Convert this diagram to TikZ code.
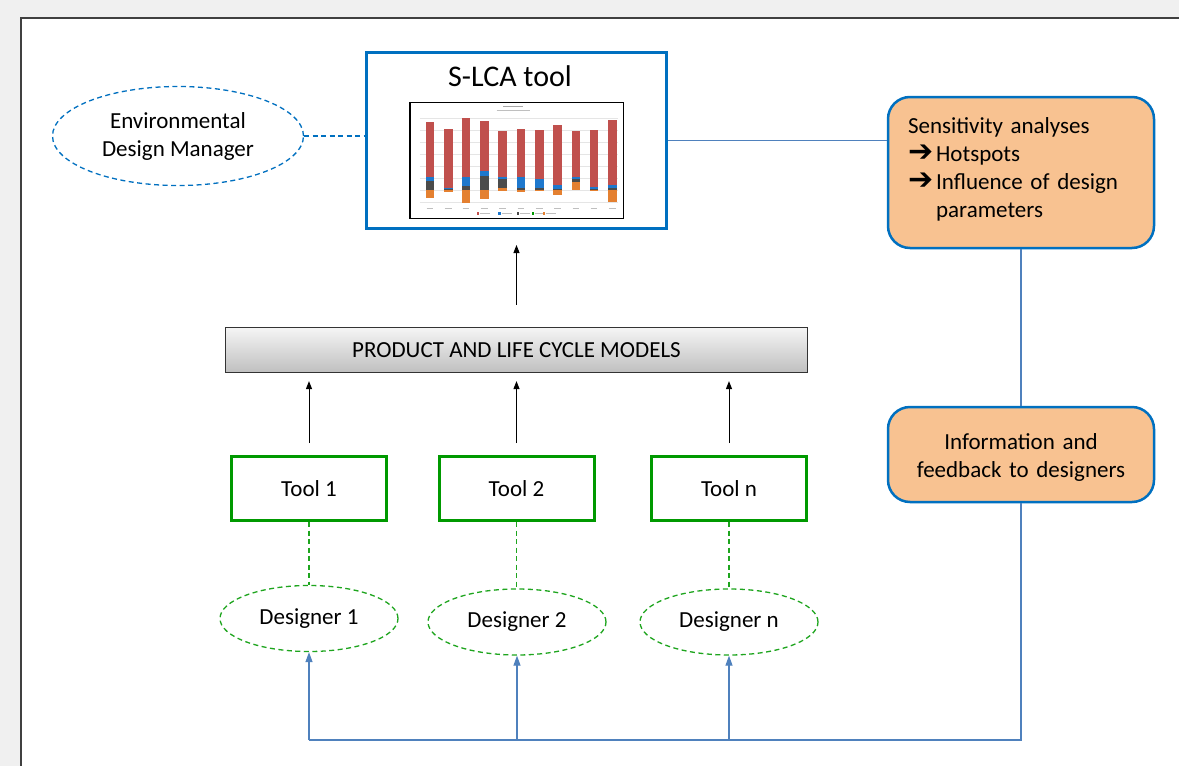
\documentclass[tikz,border=0pt]{standalone}
\usepackage{fontspec}
\setmainfont{Carlito}
\newfontfamily\symfont{DejaVu Sans}
\usetikzlibrary{shapes.geometric, arrows.meta, positioning}

\definecolor{lcablue}{RGB}{0,112,192}
\definecolor{linkblue}{RGB}{79,129,189}
\definecolor{toolgreen}{RGB}{0,153,0}
\definecolor{dashgreen}{RGB}{30,165,30}
\definecolor{peach}{RGB}{248,194,145}
\definecolor{barred}{RGB}{192,80,77}
\definecolor{barblue}{RGB}{30,120,205}
\definecolor{bargray}{RGB}{75,75,75}
\definecolor{barorange}{RGB}{228,128,48}

\newcommand{\bularrow}{\smash{\symfont\bfseries\fontsize{30}{28}\selectfont ➔}\hspace{3pt}}

\begin{document}
\begin{tikzpicture}[
    x=1pt, y=-1pt,
    every node/.style={align=center, inner sep=0pt, font=\fontsize{23}{28}\selectfont},
    slcabox/.style={draw=lcablue, line width=3pt, minimum width=300pt, minimum height=176pt, anchor=center},
    envnode/.style={ellipse, draw=lcablue, line width=1.3pt, dash pattern=on 5pt off 3.5pt, minimum width=251pt, minimum height=99pt},
    orangebox/.style={draw=lcablue, line width=2.5pt, fill=peach, rounded corners=22pt, minimum width=266pt, text width=226pt, inner xsep=20pt},
    plcmbox/.style={draw=black!80, line width=1.2pt, top color=black!4, bottom color=black!25, minimum width=582pt, minimum height=45pt},
    toolbox/.style={draw=toolgreen, line width=3pt, minimum width=155pt, minimum height=64pt},
    designer/.style={ellipse, draw=dashgreen, line width=1.3pt, dash pattern=on 5pt off 3.5pt, minimum width=178pt, minimum height=66pt},
    uparrow/.style={draw, line width=1pt, -{Triangle[length=8pt, width=6pt]}},
    link/.style={draw=linkblue, line width=1.2pt},
    fbarrow/.style={link, -{Triangle[length=10pt, width=7pt]}}
]
\useasboundingbox (0,0) rectangle (1179,766);

% page frame
\fill[black!6] (0,0) rectangle (1179,766);
\fill[white] (21,18) rectangle (1179,766);
\draw[black!75, line width=2pt] (21,766) -- (21,18) -- (1179,18);

% S-LCA tool with its chart
\node[slcabox] (slca) at (516.5,140.5) {};
\node[font=\fontsize{30}{32}\selectfont] (slcatitle) at (510,76) {S-LCA tool};

\begin{scope}[shift={(360,40)}, x=0.3333pt, y=-0.3333pt]
    \draw[fill=white, line width=1.2pt] (150,188) rectangle (790,535);
    \draw[black!35, line width=0.8pt] (430,199) -- (490,199);
    \draw[black!25, line width=0.6pt] (410,211) -- (510,211);
    \foreach \gy in {236,272,307,343,379,414,450,486}
        \draw[black!10, line width=0.4pt] (180,\gy) -- (775,\gy);
    \foreach \bx/\rt/\rb/\bb/\gb/\ob in {210/247/412/424/450/475, 265/268/444/447/450/455,
        318/235/412/437/450/488, 373/244/393/408/450/478, 428/272/412/418/445/452,
        483/267/410/443/450/457, 538/271/418/443/450/452, 593/256/435/448/450/465,
        648/272/412/418/425/450, 702/269/440/447/450/453, 757/239/435/445/450/485}
    {
        \fill[barred] (\bx-13,\rt) rectangle (\bx+13,\rb);
        \fill[barblue] (\bx-13,\rb) rectangle (\bx+13,\bb);
        \fill[bargray] (\bx-13,\bb) rectangle (\bx+13,\gb);
        \fill[barorange] (\bx-13,\gb) rectangle (\bx+13,\ob);
        \draw[black!25, line width=0.5pt] (\bx-10,505) -- (\bx+10,505);
    }
    \foreach \lx/\lc in {350/barred, 415/barblue, 470/bargray, 515/green!60!black, 548/barorange}
    {
        \fill[\lc] (\lx,517) rectangle (\lx+7,524);
        \draw[black!25, line width=0.5pt] (\lx+10,520.5) -- (\lx+40,520.5);
    }
\end{scope}

\node[envnode] (env) at (178,136) {Environmental\\Design Manager};
\draw[draw=lcablue, line width=1.3pt, dash pattern=on 5pt off 3.5pt] (env.east) -- (env.east -| slca.west);

% feedback boxes
\node[orangebox, minimum height=151pt, align=left] (sens) at (1021,172.5)
    {\begin{tabular}{@{}l@{}}Sensitivity analyses\\\bularrow Hotspots\\\bularrow Influence of design\\\phantom{\bularrow}parameters\rule[-14.4pt]{0pt}{1pt}\end{tabular}};
\node[orangebox, minimum height=95pt] (info) at (1021,454.5)
    {\begin{tabular}{@{}c@{}}\rule{0pt}{25.6pt}Information and\\feedback to designers\end{tabular}};

\draw[link] (slca.east) -- (slca.east -| sens.west);
\draw[link] (sens.south) -- (info.north);

% models and tools
\node[plcmbox] (plcm) at (516.5,350) {PRODUCT AND LIFE CYCLE MODELS};
\draw[uparrow, shorten <=22pt, shorten >=15pt] (plcm.north) -- (slca.south);

\node[toolbox] (tool1) at (309,488.5) {Tool 1};
\node[toolbox] (tool2) at (516.5,488.5) {Tool 2};
\node[toolbox] (tooln) at (729,488.5) {Tool n};

\node[designer] (des1) at (309,618.5) {Designer 1};
\node[designer] (des2) at (517,622) {Designer 2};
\node[designer] (desn) at (729,622) {Designer n};

\coordinate (base) at (0,740);

\foreach \t/\d in {tool1/des1, tool2/des2, tooln/desn}
{
    \draw[uparrow, shorten <=12pt, shorten >=8pt] (\t.north) -- (\t.north |- plcm.south);
    \draw[draw=dashgreen, line width=1.3pt, dash pattern=on 5pt off 3.5pt] (\t.south) -- (\t.south |- \d.north);
    \draw[fbarrow] (\d.south |- base) -- (\d.south);
}

\draw[link] (info.south) |- (des1.south |- base);

\end{tikzpicture}
\end{document}
